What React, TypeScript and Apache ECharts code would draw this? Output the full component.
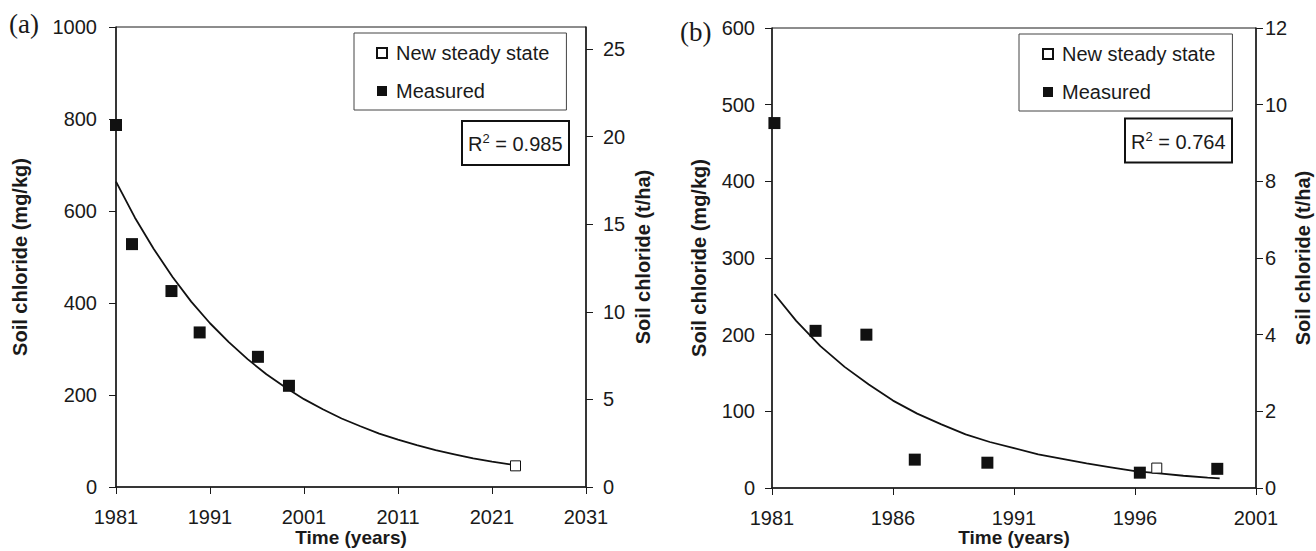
import React, { useEffect, useRef } from "react";
import * as echarts from "echarts";

// ---------- data ----------
const measuredA: number[][] = [
  [1981, 787], [1982.7, 528], [1986.9, 426], [1989.9, 336], [1996.1, 283], [1999.4, 220],
];
const steadyA: number[][] = [[2023.5, 46]];
const fitA: number[][] = [
  [1981, 664], [1983, 586], [1985, 518], [1987, 457], [1989, 403], [1991, 356],
  [1993, 315], [1995, 278], [1997, 245], [1999, 217], [2001, 191], [2003, 169],
  [2005, 149], [2007, 132], [2009, 116], [2011, 103], [2013, 91], [2015, 80],
  [2017, 71], [2019, 62], [2021, 55], [2023, 49], [2023.5, 47],
];

const measuredB: number[][] = [
  [1981.1, 476], [1982.8, 205], [1984.9, 200], [1986.9, 37], [1989.9, 33], [1996.2, 20], [1999.4, 25],
];
const steadyB: number[][] = [[1996.9, 26]];
const fitB: number[][] = [
  [1981.1, 253], [1982, 218], [1983, 185], [1984, 158], [1985, 135], [1986, 114],
  [1987, 97], [1988, 83], [1989, 70], [1990, 60], [1991, 52], [1992, 44],
  [1993, 38], [1994, 32], [1995, 27], [1996, 22], [1997, 19], [1998, 16],
  [1999, 13.5], [1999.5, 12.5],
];

const xTicksA = [1981, 1991, 2001, 2011, 2021, 2031];
const xTicksB = [1981, 1986, 1991, 1996, 2001];
const rightTicksA = [0, 5, 10, 15, 20, 25];
const legendItems = ["New steady state", "Measured"];
const r2A = "0.985";
const r2B = "0.764";

const SANS = "'Liberation Sans', Arial, sans-serif";
const SERIF = "'Liberation Serif', 'Times New Roman', serif";
const INK = "#1a1a1a";
const plain = (v: number) => String(v);

function axisBase() {
  return {
    axisLine: { show: true, onZero: false, lineStyle: { color: INK, width: 1.5 } },
    axisTick: { show: true, inside: false, length: 7, lineStyle: { color: INK, width: 1 } },
    splitLine: { show: false },
    nameMoveOverlap: false,
    nameTextStyle: { fontFamily: SANS, fontSize: 20, fontWeight: "bold", color: INK },
  };
}

export default function App() {
  const ref = useRef<HTMLDivElement>(null);
  useEffect(() => {
    if (!ref.current) return;
    const chart = echarts.init(ref.current, undefined, { renderer: "svg" });
    const labelStyle = { fontFamily: SANS, fontSize: 20, color: INK, formatter: plain };
    const xNameStyle = { fontFamily: SANS, fontSize: 19, fontWeight: "bold", color: INK };
    const legendCommon = {
      orient: "vertical",
      icon: "rect",
      itemWidth: 10,
      itemHeight: 10,
      itemGap: 18,
      borderColor: "#444",
      borderWidth: 1,
      selectedMode: false,
      textStyle: { fontFamily: SANS, fontSize: 20, color: INK, padding: [0, 0, 0, 4] },
      data: legendItems,
    };
    const r2Rich = {
      m: { fontFamily: SANS, fontSize: 20, fontWeight: "normal", color: INK, verticalAlign: "bottom", lineHeight: 22 },
      s: { fontFamily: SANS, fontSize: 13, fontWeight: "normal", color: INK, verticalAlign: "bottom", padding: [0, 0, 9, 0], lineHeight: 13 },
    };
    const titleText = { fontFamily: SERIF, fontSize: 27, fontWeight: "normal", color: INK };
    chart.setOption({
      animation: false,
      backgroundColor: "#ffffff",
      title: [
        { text: "(a)", left: 9, top: 10, padding: 0, textStyle: titleText },
        { text: "(b)", left: 680, top: 18, padding: 0, textStyle: titleText },
        {
          text: `{m|R}{s|2}{m| = ${r2A}}`, left: 462, top: 121, padding: [11, 7, 11, 6],
          borderColor: "#111", borderWidth: 2, textStyle: { fontWeight: "normal", rich: r2Rich },
        },
        {
          text: `{m|R}{s|2}{m| = ${r2B}}`, left: 1125, top: 118.5, padding: [11, 7, 11, 6],
          borderColor: "#111", borderWidth: 2, textStyle: { fontWeight: "normal", rich: r2Rich },
        },
      ],
      legend: [
        { ...legendCommon, left: 354, top: 33, padding: [10, 17, 9, 22] },
        { ...legendCommon, left: 1019, top: 34, padding: [10, 17, 9, 23] },
      ],
      grid: [
        { left: 116, top: 27, width: 470, height: 460, show: true, borderColor: INK, borderWidth: 1, containLabel: false, outerBoundsMode: "none" },
        { left: 772, top: 28, width: 484, height: 460, show: true, borderColor: INK, borderWidth: 1, containLabel: false, outerBoundsMode: "none" },
      ],
      xAxis: [
        {
          ...axisBase(), type: "value", gridIndex: 0, min: 1981, max: 2031,
          name: "Time (years)", nameLocation: "middle", nameGap: 41, nameTextStyle: xNameStyle,
          axisLabel: { ...labelStyle, margin: 20, customValues: xTicksA },
          axisTick: { ...axisBase().axisTick, customValues: xTicksA },
        },
        {
          ...axisBase(), type: "value", gridIndex: 1, min: 1981, max: 2001,
          name: "Time (years)", nameLocation: "middle", nameGap: 40, nameTextStyle: xNameStyle,
          axisLabel: { ...labelStyle, margin: 20, customValues: xTicksB },
          axisTick: { ...axisBase().axisTick, customValues: xTicksB },
        },
      ],
      yAxis: [
        {
          ...axisBase(), type: "value", gridIndex: 0, position: "left", min: 0, max: 1000, interval: 200,
          name: "Soil chloride (mg/kg)", nameLocation: "middle", nameGap: 86,
          axisLabel: { ...labelStyle, margin: 19 },
        },
        {
          ...axisBase(), type: "value", gridIndex: 0, position: "right", min: 0, max: 26.25,
          name: "Soil chloride (t/ha)", nameLocation: "middle", nameGap: 47,
          axisLabel: { ...labelStyle, margin: 17, customValues: rightTicksA },
          axisTick: { ...axisBase().axisTick, customValues: rightTicksA },
        },
        {
          ...axisBase(), type: "value", gridIndex: 1, position: "left", min: 0, max: 600, interval: 100,
          name: "Soil chloride (mg/kg)", nameLocation: "middle", nameGap: 63,
          axisLabel: { ...labelStyle, margin: 17 },
        },
        {
          ...axisBase(), type: "value", gridIndex: 1, position: "right", min: 0, max: 12, interval: 2,
          name: "Soil chloride (t/ha)", nameLocation: "middle", nameGap: 37,
          axisLabel: { ...labelStyle, margin: 9 },
        },
      ],
      series: [
        {
          type: "line", name: "Fit (a)", xAxisIndex: 0, yAxisIndex: 0, data: fitA,
          showSymbol: false, symbol: "none", lineStyle: { color: "#111", width: 1.8 }, z: 2,
        },
        {
          type: "scatter", name: "Measured", xAxisIndex: 0, yAxisIndex: 0, data: measuredA,
          symbol: "rect", symbolSize: 12, itemStyle: { color: "#111", opacity: 1 }, clip: false, z: 3,
        },
        {
          type: "scatter", name: "New steady state", xAxisIndex: 0, yAxisIndex: 0, data: steadyA,
          symbol: "rect", symbolSize: 10, itemStyle: { color: "#fff", borderColor: "#111", borderWidth: 1, opacity: 1 }, clip: false, z: 4,
        },
        {
          type: "line", name: "Fit (b)", xAxisIndex: 1, yAxisIndex: 2, data: fitB,
          showSymbol: false, symbol: "none", lineStyle: { color: "#111", width: 1.8 }, z: 2,
        },
        {
          type: "scatter", name: "Measured", xAxisIndex: 1, yAxisIndex: 2, data: measuredB,
          symbol: "rect", symbolSize: 12, itemStyle: { color: "#111", opacity: 1 }, clip: false, z: 3,
        },
        {
          type: "scatter", name: "New steady state", xAxisIndex: 1, yAxisIndex: 2, data: steadyB,
          symbol: "rect", symbolSize: 10, itemStyle: { color: "#fff", borderColor: "#111", borderWidth: 1, opacity: 1 }, clip: false, z: 4,
        },
      ],
    });
    return () => chart.dispose();
  }, []);
  return (
    <div
      ref={ref}
      style={{ position: "absolute", left: 0, top: 0, width: 1316, height: 551, background: "#fff" }}
    />
  );
}
